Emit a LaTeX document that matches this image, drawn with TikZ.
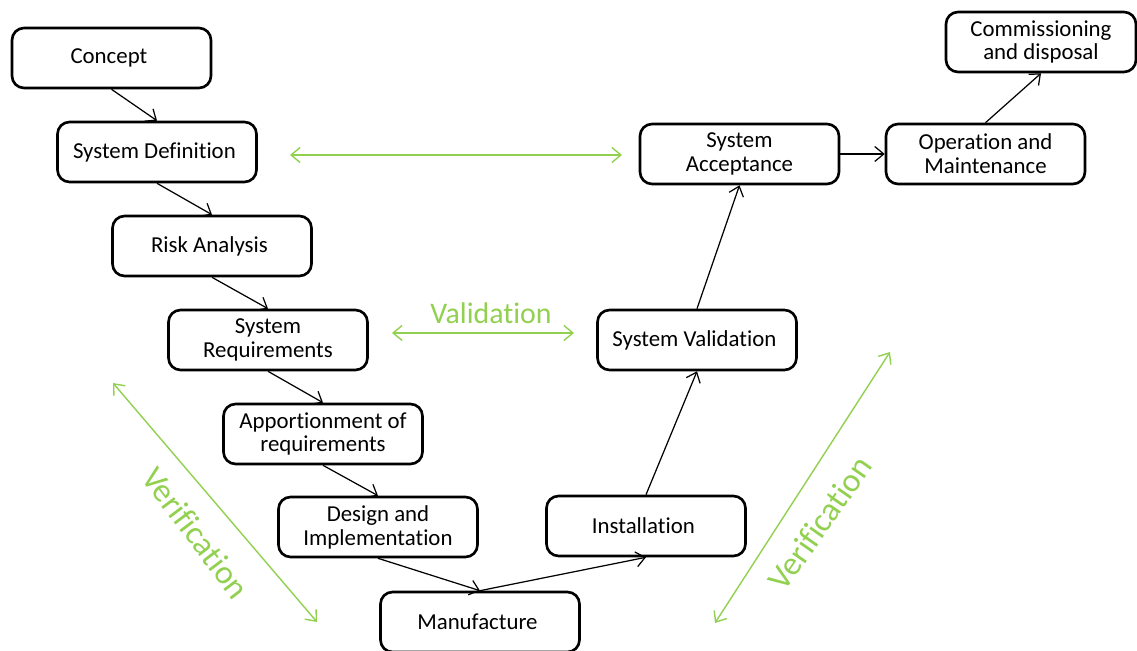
\documentclass[tikz,border=0pt]{standalone}
\usepackage{fontspec}
\setmainfont{Carlito}[Ligatures={NoCommon}]
\usetikzlibrary{arrows,arrows.meta,positioning}
\usepackage{xcolor}
\definecolor{vvgreen}{RGB}{146,208,80}

\begin{document}
\begin{tikzpicture}[x=0.02cm, y=-0.02cm, >={Straight Barb[length=1.8mm, width=3mm]},
    every node/.style={
        rectangle,
        rounded corners=0.24cm,
        line width=1.5pt,
        draw,
        fill=white,
        align=center,
        minimum width=3.98cm,
        minimum height=1.2cm,
        font=\fontsize{13}{13.6}\selectfont
    },
    vv_text/.style={draw=none, fill=none, minimum width=0pt, minimum height=0pt,
        text=vvgreen, font=\fontsize{17}{20}\selectfont},
    vv_arrow/.style={<->, vvgreen, line width=0.8pt},
    flow_arrow/.style={->, line width=0.7pt}]
    \useasboundingbox (0,0) rectangle (1137,651);

    \node (concept) [shift={(111.5, 58)}]
    {
        Concept
    };
    \node (system_definition) [shift={(157, 152)}]
    {
        System Definition
    };
    \node (risk_analysis) [shift={(212, 246)}]
    {
        Risk Analysis
    };
    \node (system_requirements) [shift={(268, 340)}]
    {
        System\\Requirements
    };
    \node (apportionment) [shift={(323, 434)}]
    {
        Apportionment of\\requirements
    };
    \node (design_implementation) [shift={(378, 527)}]
    {
        Design and\\Implementation
    };
    \node (manufacture) [shift={(480, 622)}]
    {
        Manufacture
    };
    \node (installation) [shift={(646, 526)}]
    {
        Installation
    };
    \node (system_validation) [shift={(697, 340)}]
    {
        System Validation
    };
    \node (system_acceptance) [shift={(739.5, 154)}]
    {
        System\\Acceptance
    };
    \node (operation_maintenance) [shift={(985.5, 154)}]
    {
        Operation and\\Maintenance
    };
    \node (commissioning_disposal) [minimum width=3.8cm, shift={(1041, 42)}]
    {
        Commissioning\\and disposal
    };

    \node (validation_text) [vv_text, shift={(491, 313)}] {Validation};
    \node (verification_left_text) [vv_text, font=\fontsize{19}{22}\selectfont, shift={(196, 533)}, rotate=-53] {Verification};
    \node (verification_right_text) [vv_text, font=\fontsize{19}{22}\selectfont, shift={(820, 523)}, rotate=55] {Verification};

    \coordinate (top_left) at (290, 155);
    \coordinate (top_right) at (622, 155);
    \coordinate (mid_left) at (392, 333);
    \coordinate (mid_right) at (574, 333);
    \coordinate (left_top) at (113, 383);
    \coordinate (left_bottom) at (317, 622);
    \coordinate (right_top) at (890, 352);
    \coordinate (right_bottom) at (715, 623);

    \draw[flow_arrow] (concept.south) to (system_definition.north);
    \draw[flow_arrow] (system_definition.south) to (risk_analysis.north);
    \draw[flow_arrow] (risk_analysis.south) to (system_requirements.north);
    \draw[flow_arrow] (system_requirements.south) to (apportionment.north);
    \draw[flow_arrow] (apportionment.south) to (design_implementation.north);
    \draw[flow_arrow] (design_implementation.south) to (manufacture.north);
    \draw[flow_arrow] (manufacture.north) to (installation.south);
    \draw[flow_arrow] (installation.north) to (system_validation.south);
    \draw[flow_arrow] (system_validation.north) to (system_acceptance.south);
    \draw[flow_arrow] (system_acceptance.east) to (operation_maintenance.west);
    \draw[flow_arrow] (operation_maintenance.north) to (commissioning_disposal.south);

    \draw[vv_arrow] (top_left) to (top_right);
    \draw[vv_arrow] (mid_left) to (mid_right);
    \draw[vv_arrow] (left_top) to (left_bottom);
    \draw[vv_arrow] (right_top) to (right_bottom);
\end{tikzpicture}
\end{document}
